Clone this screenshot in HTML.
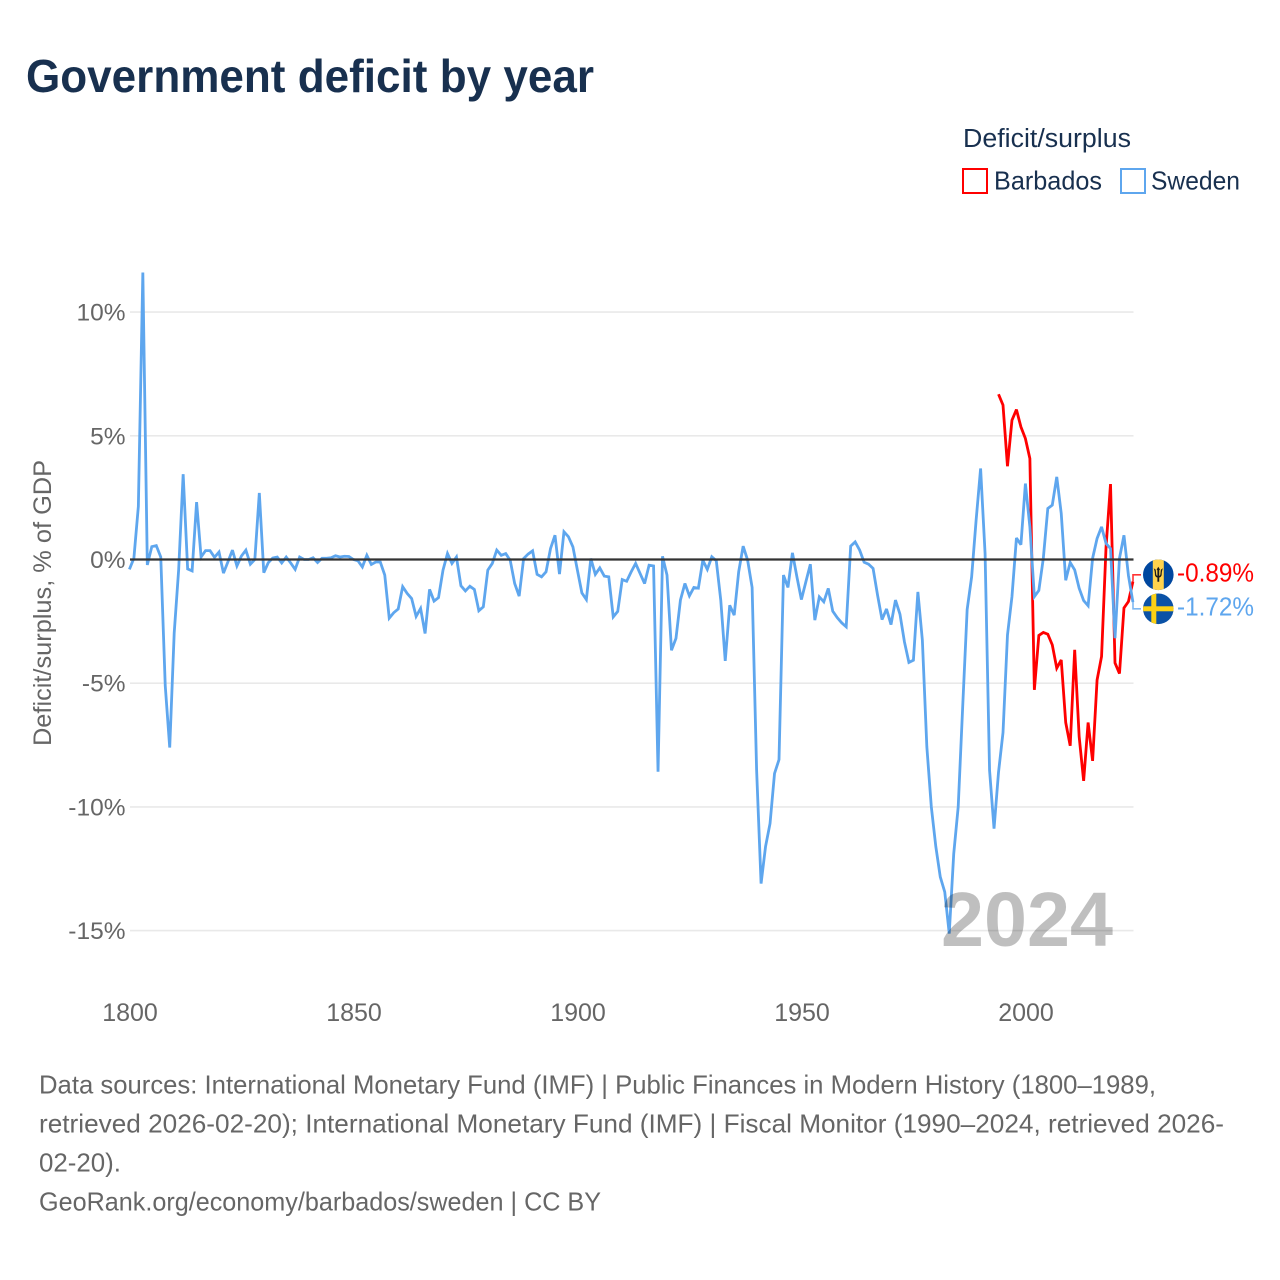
<!DOCTYPE html>
<html lang="en">
<head>
<meta charset="utf-8">
<title>Government deficit by year</title>
<style>
html,body{margin:0;padding:0;background:#fff;}
svg{display:block;}
text{font-family:"Liberation Sans",sans-serif;}
</style>
</head>
<body>
<svg id="chart" width="1280" height="1280" viewBox="0 0 1280 1280" xmlns="http://www.w3.org/2000/svg">
  <rect x="0" y="0" width="1280" height="1280" fill="#fff"/>
  <text x="26" y="92" font-size="46" font-weight="700" fill="#18304f" textLength="568" lengthAdjust="spacingAndGlyphs">Government deficit by year</text>

  <g>
    <text x="963" y="147" font-size="25.5" fill="#18304f" textLength="168" lengthAdjust="spacingAndGlyphs">Deficit/surplus</text>
    <g>
      <rect x="963" y="169" width="24" height="24" fill="#fff" stroke="#ff0000" stroke-width="2"/>
      <text x="994" y="189.5" font-size="26" fill="#18304f" textLength="108" lengthAdjust="spacingAndGlyphs">Barbados</text>
    </g>
    <g>
      <rect x="1121" y="169" width="24" height="24" fill="#fff" stroke="#5ea6ee" stroke-width="2"/>
      <text x="1151" y="189.5" font-size="26" fill="#18304f" textLength="89" lengthAdjust="spacingAndGlyphs">Sweden</text>
    </g>
  </g>

  <g id="grid"></g>
  <g id="yticks"></g>
  <g id="xticks"></g>
  <text transform="translate(51,603) rotate(-90)" text-anchor="middle" font-size="25" fill="#666666" textLength="286" lengthAdjust="spacingAndGlyphs">Deficit/surplus, % of GDP</text>
  <g id="series"></g>
  <g id="zero"></g>
  <g id="labels"></g>

  <text x="941" y="946" font-size="77" font-weight="700" fill="#000" fill-opacity="0.25" textLength="172" lengthAdjust="spacingAndGlyphs">2024</text>

  <g font-size="26" fill="#666666">
    <text x="39" y="1093.5" textLength="1117" lengthAdjust="spacingAndGlyphs">Data sources: International Monetary Fund (IMF) | Public Finances in Modern History (1800–1989,</text>
    <text x="39" y="1132.5" textLength="1185" lengthAdjust="spacingAndGlyphs">retrieved 2026-02-20); International Monetary Fund (IMF) | Fiscal Monitor (1990–2024, retrieved 2026-</text>
    <text x="39" y="1171.5" textLength="82" lengthAdjust="spacingAndGlyphs">02-20).</text>
    <text x="39" y="1210.5" textLength="562" lengthAdjust="spacingAndGlyphs">GeoRank.org/economy/barbados/sweden | CC BY</text>
  </g>
</svg>
<script>
const swedenStartYear = 1800;
const barbadosStartYear = 1994;
const swedenValues = [
  -0.4,0.05,2.15,11.6,-0.22,0.52,0.56,0.1,-5.1,-7.6,
  -2.97,-0.4,3.45,-0.38,-0.46,2.32,0.1,0.36,0.36,0.09,
  0.3,-0.55,-0.09,0.38,-0.26,0.14,0.38,-0.19,0,2.69,
  -0.53,-0.13,0.06,0.1,-0.14,0.1,-0.14,-0.4,0.1,0,
  0,0.07,-0.12,0.05,0.05,0.07,0.15,0.1,0.13,0.12,
  0,-0.05,-0.3,0.17,-0.2,-0.1,-0.1,-0.63,-2.37,-2.15,
  -2.0,-1.1,-1.37,-1.58,-2.3,-1.98,-2.99,-1.21,-1.68,-1.54,
  -0.43,0.24,-0.16,0.1,-1.06,-1.27,-1.08,-1.21,-2.07,-1.91,
  -0.43,-0.16,0.38,0.17,0.24,-0.03,-0.97,-1.48,0.04,0.22,
  0.35,-0.6,-0.7,-0.5,0.44,0.98,-0.59,1.12,0.92,0.51,
  -0.43,-1.35,-1.62,0.04,-0.6,-0.34,-0.67,-0.7,-2.32,-2.1,
  -0.81,-0.88,-0.5,-0.16,-0.57,-0.97,-0.23,-0.26,-8.58,0.13,
  -0.63,-3.67,-3.19,-1.64,-0.97,-1.47,-1.13,-1.16,-0.03,-0.4,
  0.11,-0.05,-1.64,-4.1,-1.85,-2.25,-0.5,0.54,-0.03,-1.13,
  -8.5,-13.1,-11.6,-10.67,-8.65,-8.09,-0.63,-1.13,0.27,-0.7,
  -1.62,-0.9,-0.19,-2.45,-1.51,-1.71,-1.17,-2.09,-2.35,-2.56,
  -2.72,0.54,0.71,0.38,-0.11,-0.19,-0.36,-1.44,-2.43,-2.0,
  -2.63,-1.64,-2.21,-3.33,-4.16,-4.07,-1.31,-3.26,-7.57,-10.0,
  -11.6,-12.83,-13.44,-15.12,-11.9,-10.0,-5.96,-2.02,-0.7,1.59,
  3.68,0.24,-8.52,-10.88,-8.6,-7.0,-3.05,-1.5,0.87,0.6,
  3.07,1.32,-1.5,-1.25,0.05,2.06,2.2,3.34,1.86,-0.84,
  -0.12,-0.42,-1.16,-1.66,-1.87,0.05,0.85,1.32,0.65,0.44,
  -3.18,0.05,0.98,-0.65,-1.72
];
const barbadosValues = [
  6.68,6.24,3.77,5.63,6.06,5.36,4.89,4.08,
  -5.27,-3.07,-2.95,-3.02,-3.45,-4.39,-4.06,-6.59,-7.53,-3.65,-7.16,-8.95,
  -6.59,-8.14,-4.87,-3.92,0.5,3.05,-4.18,-4.61,-1.96,-1.7,-0.89
];
const yTickValues = [10,5,0,-5,-10,-15];
const xTickValues = [1800,1850,1900,1950,2000];

const NS = 'http://www.w3.org/2000/svg';
const plotLeft = 130, plotRight = 1133.5;
function xScale(year){ return 130 + (year - 1800) * 4.48; }
function xLine(year){ return xScale(year) - 0.6; }
function yScale(v){ return 559.5 - v * 24.74; }
function mk(tag, parent, attrs){
  const el = document.createElementNS(NS, tag);
  for (const k in attrs) el.setAttribute(k, attrs[k]);
  parent.appendChild(el);
  return el;
}
function linePath(values, startYear){
  return values.map((v,i)=>(i?'L':'M')+xLine(startYear+i).toFixed(2)+','+yScale(v).toFixed(2)).join('');
}

const gridG = document.getElementById('grid');
const yG = document.getElementById('yticks');
yTickValues.forEach(function(t){
  if (t !== 0) {
    const g = mk('line', gridG, {x1:plotLeft, x2:plotRight, y1:yScale(t), y2:yScale(t), stroke:'#e9e9e9', 'stroke-width':1.6});
    
    
  }
  const lab = mk('text', yG, {x:125.5, y:yScale(t)+8.5, 'text-anchor':'end', 'font-size':24.5, fill:'#666666'});
  
  
  lab.textContent = t + '%';
});

const xG = document.getElementById('xticks');
xTickValues.forEach(function(t){
  const lab = mk('text', xG, {x:xScale(t), y:1021, 'text-anchor':'middle', 'font-size':25, fill:'#666666'});
  
  
  lab.textContent = t;
});

const seriesG = document.getElementById('series');
const redLine = mk('path', seriesG, {d:linePath(barbadosValues, barbadosStartYear), fill:'none', stroke:'#ff0000', 'stroke-width':2.8, 'stroke-linejoin':'miter', 'stroke-miterlimit':3});


const blueLine = mk('path', seriesG, {d:linePath(swedenValues, swedenStartYear), fill:'none', stroke:'#5ea6ee', 'stroke-width':2.8, 'stroke-linejoin':'miter', 'stroke-miterlimit':3});



const zeroLine = mk('line', document.getElementById('zero'), {x1:plotLeft, x2:plotRight, y1:yScale(0), y2:yScale(0), stroke:'#333333', 'stroke-width':2.2});



/* end labels, pushed apart so the two flags do not overlap */
const lastRed = barbadosValues[barbadosValues.length-1];
const lastBlue = swedenValues[swedenValues.length-1];
const gap = 34;
let yr = yScale(lastRed), yb = yScale(lastBlue);
if (Math.abs(yr-yb) < gap) {
  const mid = (yr+yb)/2, dir = yr <= yb ? -1 : 1;
  yr = mid + dir*gap/2;
  yb = mid - dir*gap/2;
}
const labelsG = document.getElementById('labels');
const defs = mk('defs', labelsG, {});
const cp = mk('clipPath', defs, {id:'flag-clip'});
mk('circle', cp, {cx:0, cy:0, r:15.3});

function endLabel(name, value, yLabel, color, xEnd){
  const c = mk('path', labelsG, {d:'M'+xEnd+','+yScale(value).toFixed(2)+'L'+xEnd+','+yLabel.toFixed(2)+'L1141,'+yLabel.toFixed(2), fill:'none', stroke:color, 'stroke-width':1.6, 'stroke-opacity':0.8});
  
  
  const t = mk('text', labelsG, {x:1177, y:yLabel+6.5, 'font-size':25.5, fill:color, textLength:77, lengthAdjust:'spacingAndGlyphs'});
  
  
  t.textContent = value.toFixed(2) + '%';
  const f = mk('g', labelsG, {transform:'translate(1158.3,'+yLabel.toFixed(2)+')', 'clip-path':'url(#flag-clip)'});
  
  
  return f;
}
const fb = endLabel('barbados', lastRed, yr, '#ff0000', 1133);
mk('rect', fb, {x:-16, y:-16, width:32, height:32, fill:'#00479f'});
mk('rect', fb, {x:-5.5, y:-16, width:11, height:32, fill:'#ffd34d'});
mk('path', fb, {d:'M-4.6,-6.5C-3.6,-4 -3.4,-2 -3.4,-0.5C-3.4,1.6 -2,2.6 -0.9,2.7V7H0.9V2.7C2,2.6 3.4,1.6 3.4,-0.5C3.4,-2 3.6,-4 4.6,-6.5L2.6,-5.2C2.4,-3.5 2.2,-1.8 2.1,-0.5C2,0.5 1.4,1 0.9,1.1V-4.5L1.7,-5.2L0,-8L-1.7,-5.2L-0.9,-4.5V1.1C-1.4,1 -2,0.5 -2.1,-0.5C-2.2,-1.8 -2.4,-3.5 -2.6,-5.2Z', fill:'#1b1b1b'});
const fs = endLabel('sweden', lastBlue, yb, '#5ea6ee', 1133);
mk('rect', fs, {x:-16, y:-16, width:32, height:32, fill:'#0b52a6'});
mk('rect', fs, {x:-7, y:-16, width:5, height:32, fill:'#fcd116'});
mk('rect', fs, {x:-16, y:-2.5, width:32, height:5, fill:'#fcd116'});
</script>
</body>
</html>
